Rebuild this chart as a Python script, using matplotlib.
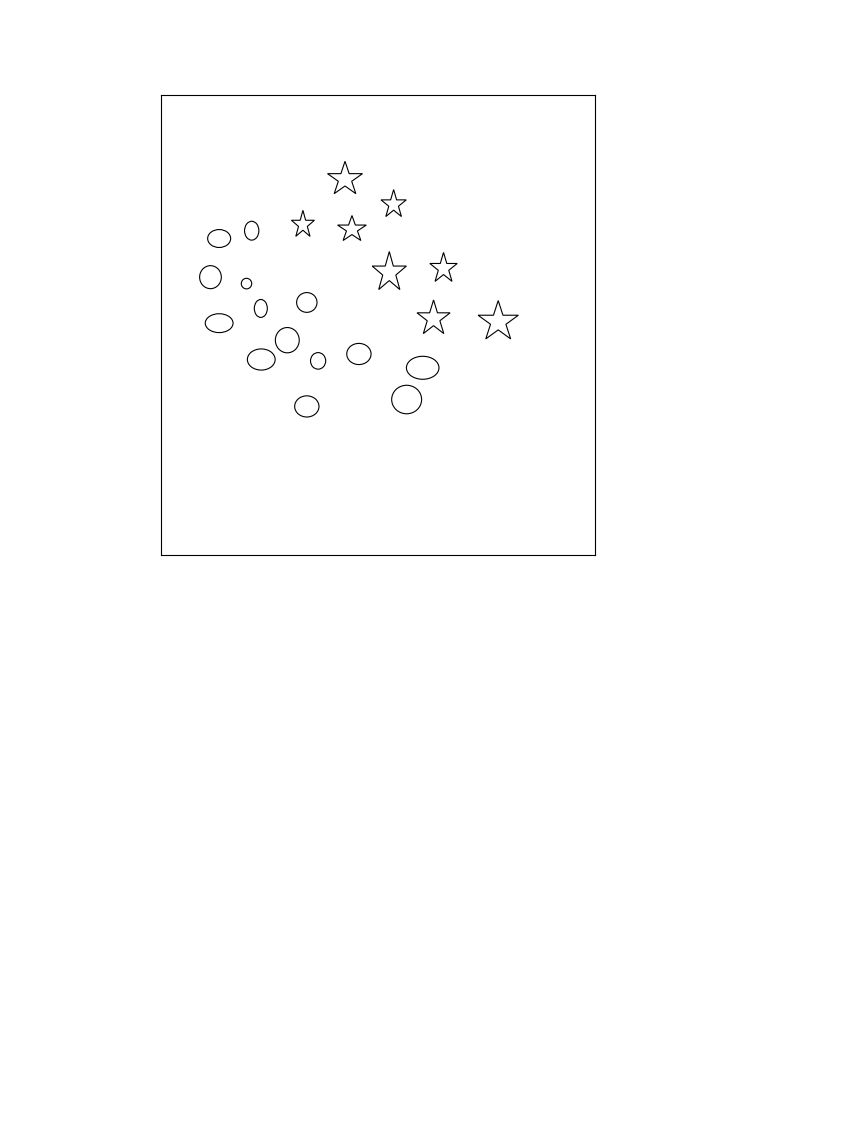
import numpy as np
import matplotlib
matplotlib.use('Agg')
import matplotlib.pyplot as plt
from matplotlib.patches import Ellipse, Polygon

# Elipses: centro y tamaño (unidades de datos, ejes 0-10)
ell_x = [1.34, 2.09, 1.14, 1.97, 3.36, 2.30, 1.34, 2.91, 2.31, 3.62, 4.56, 6.03, 5.66, 3.36]
ell_y = [6.88, 7.05, 6.04, 5.90, 5.49, 5.36, 5.04, 4.67, 4.25, 4.22, 4.37, 4.07, 3.38, 3.23]
ell_w = [0.53, 0.33, 0.50, 0.24, 0.47, 0.30, 0.64, 0.55, 0.64, 0.35, 0.56, 0.75, 0.69, 0.56]
ell_h = [0.39, 0.41, 0.50, 0.23, 0.43, 0.39, 0.41, 0.55, 0.46, 0.36, 0.46, 0.50, 0.62, 0.46]

# Estrellas: centro y radios exteriores en x / y (unidades de datos)
star_x = [4.24, 5.36, 3.27, 4.40, 5.26, 6.51, 6.28, 7.77]
star_y = [8.17, 7.62, 7.18, 7.08, 6.14, 6.23, 5.14, 5.07]
star_rx = [0.424, 0.306, 0.279, 0.348, 0.415, 0.332, 0.401, 0.488]
star_ry = [0.389, 0.324, 0.313, 0.300, 0.457, 0.348, 0.404, 0.461]

fig = plt.figure(figsize=(8.57, 11.43), dpi=100)
ax = fig.add_axes([161 / 857, 1 - 555 / 1143, 434 / 857, 460 / 1143])

for x, y, w, h in zip(ell_x, ell_y, ell_w, ell_h):
    ax.add_patch(Ellipse((x, y), w, h, facecolor='white', edgecolor='black', linewidth=0.8))

# estrella de 5 puntas
ang = np.deg2rad(90 + 36 * np.arange(10))
rad = np.where(np.arange(10) % 2 == 0, 1.0, 0.381966)
for x, y, rx, ry in zip(star_x, star_y, star_rx, star_ry):
    pts = np.column_stack([x + rx * rad * np.cos(ang), y + ry * rad * np.sin(ang)])
    ax.add_patch(Polygon(pts, closed=True, facecolor='white', edgecolor='black', linewidth=0.8))

ax.set_xlim(0, 10)
ax.set_ylim(0, 10)
ax.set_xticks([])
ax.set_yticks([])

fig.savefig('out.png', dpi=100)
